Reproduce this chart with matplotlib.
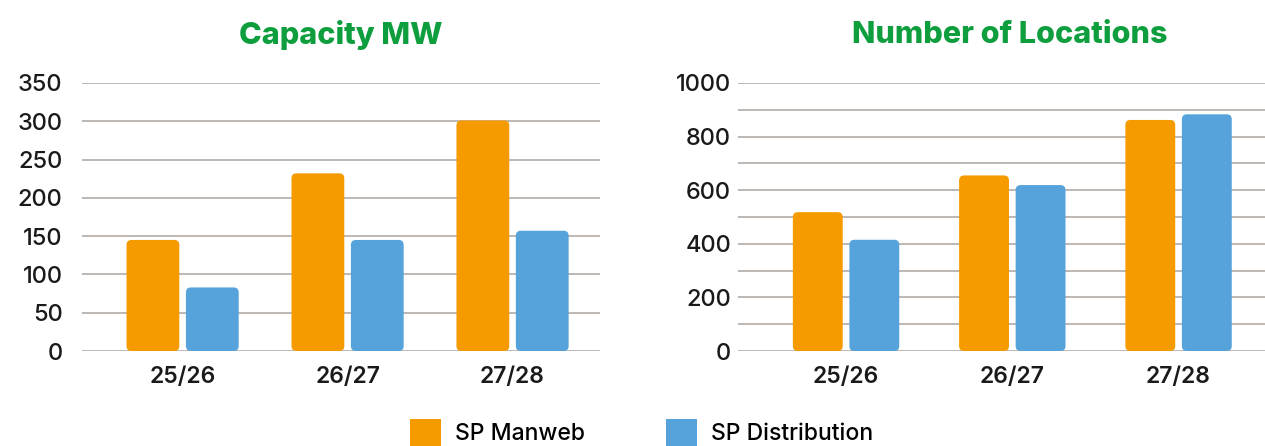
import numpy as np
import matplotlib
matplotlib.use("Agg")
import matplotlib.pyplot as plt
from matplotlib.patches import FancyBboxPatch, Patch

plt.rcParams['font.family'] = ['Inter', 'DejaVu Sans']

years = ["25/26", "26/27", "27/28"]
series = ["SP Manweb", "SP Distribution"]
capacity_manweb = [145, 232, 301]
capacity_dist = [83, 145, 157]
locations_manweb = [518, 655, 862]
locations_dist = [415, 619, 883]

ORANGE = "#F59B00"
BLUE = "#55A3DA"
GREEN = "#0E9E3E"
GRID = "#BDB8B3"
TEXT = "#1A1A1A"


def rounded_bars(ax, bars, color, radius_px):
    # swap plain rectangles for rounded ones, same geometry
    bbox = ax.get_window_extent()
    x0, x1 = ax.get_xlim()
    y0, y1 = ax.get_ylim()
    px_x = bbox.width / (x1 - x0)
    px_y = bbox.height / (y1 - y0)
    for r in bars:
        r.set_visible(False)
        p = FancyBboxPatch((r.get_x(), r.get_y()), r.get_width(), r.get_height(),
                           boxstyle="round,pad=0,rounding_size=%f" % (radius_px / px_x),
                           mutation_aspect=px_x / px_y,
                           facecolor=color, edgecolor="none", zorder=3)
        ax.add_patch(p)


def draw_panel(ax, a, b, ymax, major, minor, xlim, width, off, ypad):
    x = np.arange(len(years))
    ax.set_xlim(*xlim)
    ax.set_ylim(0, ymax)
    ba = ax.bar(x - off, a, width, color=ORANGE)
    bb = ax.bar(x + off, b, width, color=BLUE)
    ax.set_yticks(np.arange(0, ymax + 1, major))
    ax.set_yticks(np.arange(0, ymax + 1, minor), minor=True)
    ax.grid(axis="y", which="both", color=GRID, linewidth=1.4, zorder=0)
    ax.set_axisbelow(True)
    for s in ax.spines.values():
        s.set_visible(False)
    ax.set_xticks(x)
    ax.set_xticklabels(years, fontsize=16.5, fontweight="semibold", color=TEXT)
    ax.tick_params(axis="x", length=0, pad=11)
    ax.tick_params(axis="y", which="both", length=0, pad=ypad, labelsize=17, labelcolor=TEXT)
    for lab in ax.get_yticklabels():
        lab.set_fontweight("medium")
    return ba, bb


fig = plt.figure(figsize=(12.65, 4.46), dpi=100)
ax1 = fig.add_axes([0.0648, 0.213, 0.4095, 0.601])
ax2 = fig.add_axes([0.5834, 0.213, 0.4166, 0.601])

b1 = draw_panel(ax1, capacity_manweb, capacity_dist, 350, 50, 50,
                (-0.61, 2.53), 0.32, 0.18, 14)
b2 = draw_panel(ax2, locations_manweb, locations_dist, 1000, 200, 100,
                (-0.65, 2.52), 0.30, 0.17, 5)

fig.canvas.draw()
rounded_bars(ax1, b1[0], ORANGE, 5)
rounded_bars(ax1, b1[1], BLUE, 5)
rounded_bars(ax2, b2[0], ORANGE, 5)
rounded_bars(ax2, b2[1], BLUE, 5)

fig.text(0.2696, 0.921, "Capacity MW", ha="center", va="center",
         fontsize=22, fontweight="heavy", color=GREEN)
fig.text(0.798, 0.921, "Number of Locations", ha="center", va="center",
         fontsize=22, fontweight="heavy", color=GREEN)

handles = [Patch(facecolor=ORANGE, edgecolor="none"),
           Patch(facecolor=BLUE, edgecolor="none")]
leg = fig.legend(handles, series, loc="center", bbox_to_anchor=(0.507, 0.03), ncol=2,
                 frameon=False, fontsize=16.5, handlelength=1.35, handleheight=1.4,
                 columnspacing=3.55, handletextpad=0.6)
for t in leg.get_texts():
    t.set_fontweight("medium")

fig.savefig("out.png", dpi=100)
